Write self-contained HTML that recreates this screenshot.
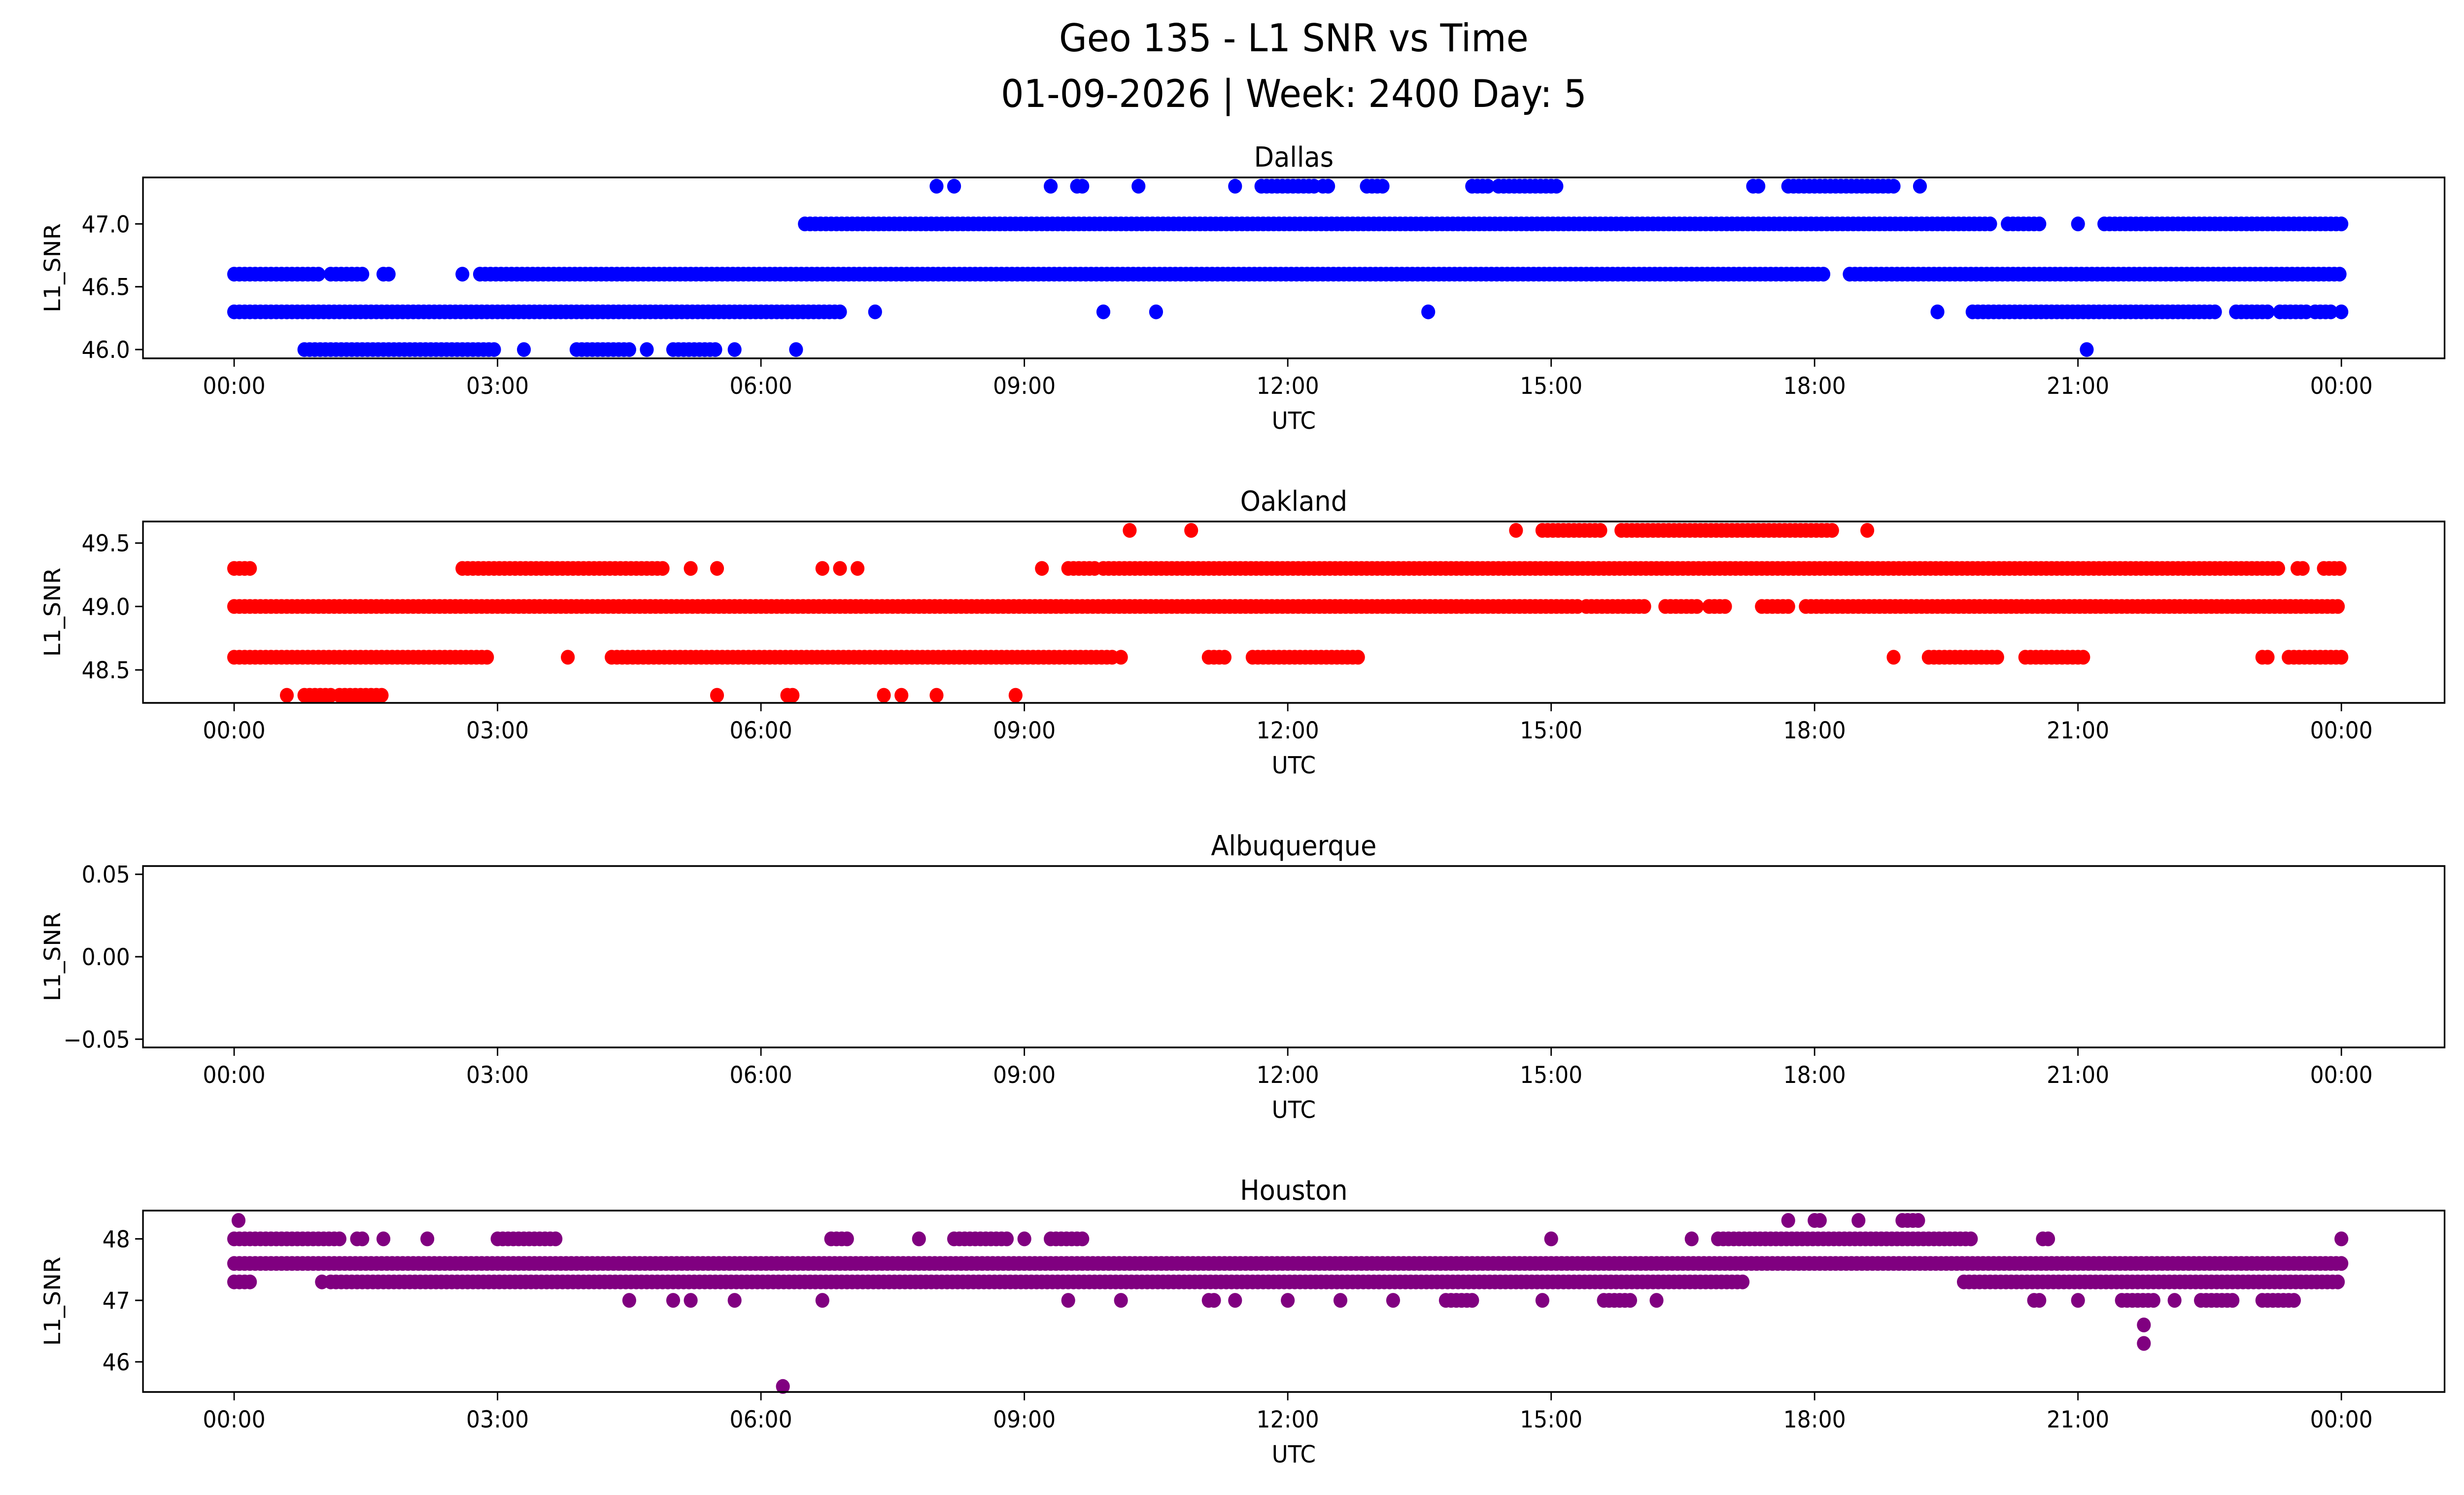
<!DOCTYPE html>
<html><head><meta charset="utf-8"><style>
html,body{margin:0;padding:0;background:#fff;overflow:hidden}
svg{display:block;width:100vw;height:100vh;font-family:"DejaVu Sans","Liberation Sans",sans-serif}
</style></head><body>
<svg id="c" viewBox="0 0 5325 3033" preserveAspectRatio="none" xmlns="http://www.w3.org/2000/svg">
<text x="2796" y="104" font-size="78" text-anchor="middle">Geo 135 - L1 SNR vs Time</text>
<text x="2796" y="217" font-size="78" text-anchor="middle">01-09-2026 | Week: 2400 Day: 5</text>
</svg>
<script>
const xTickLabels=["00:00","03:00","06:00","09:00","12:00","15:00","18:00","21:00","00:00"];
const xTickHours=[0,3,6,9,12,15,18,21,24];
const dallasLevels=[46.0,46.3,46.6,47.0,47.3];
const dallasRanges=[
 [[0.8,3.0],[3.3,3.3],[3.9,4.5],[4.7,4.7],[5.0,5.5],[5.7,5.7],[6.4,6.4],[21.1,21.1]],
 [[0,6.9],[7.3,7.3],[9.9,9.9],[10.5,10.5],[13.6,13.6],[19.4,19.4],[19.8,22.6],[22.8,23.2],[23.3,23.6],[23.7,23.9],[24,24]],
 [[0,1.0],[1.1,1.5],[1.7,1.8],[2.6,2.6],[2.8,18.1],[18.4,24]],
 [[6.5,20.0],[20.2,20.6],[21.0,21.0],[21.3,24]],
 [[8.0,8.0],[8.2,8.2],[9.3,9.3],[9.6,9.7],[10.3,10.3],[11.4,11.4],[11.7,12.3],[12.4,12.5],[12.9,13.1],[14.1,14.3],[14.4,15.1],[17.3,17.4],[17.7,18.9],[19.2,19.2]]
];
const oaklandLevels=[48.3,48.6,49.0,49.3,49.6];
const oaklandRanges=[
 [[0.6,0.6],[0.8,1.1],[1.2,1.7],[5.5,5.5],[6.3,6.4],[7.4,7.4],[7.6,7.6],[8.0,8.0],[8.9,8.9]],
 [[0,2.9],[3.8,3.8],[4.3,10.0],[10.1,10.1],[11.1,11.3],[11.6,12.8],[18.9,18.9],[19.3,20.1],[20.4,21.1],[23.1,23.2],[23.4,24]],
 [[0,15.3],[15.4,16.1],[16.3,16.7],[16.8,17.0],[17.4,17.7],[17.9,24]],
 [[0,0.2],[2.6,4.9],[5.2,5.2],[5.5,5.5],[6.7,6.7],[6.9,6.9],[7.1,7.1],[9.2,9.2],[9.5,9.8],[9.9,23.3],[23.5,23.6],[23.8,24]],
 [[10.2,10.2],[10.9,10.9],[14.6,14.6],[14.9,15.6],[15.8,18.2],[18.6,18.6]]
];
const albuquerqueLevels=[];
const albuquerqueRanges=[];
const houstonLevels=[45.6,46.3,46.6,47.0,47.3,47.6,48.0,48.3];
const houstonRanges=[
 [[6.25,6.25]],
 [[21.75,21.75]],
 [[21.75,21.75]],
 [[4.5,4.5],[5.0,5.0],[5.2,5.2],[5.7,5.7],[6.7,6.7],[9.5,9.5],[10.1,10.1],[11.1,11.2],[11.4,11.4],[12.0,12.0],[12.6,12.6],[13.2,13.2],[13.8,14.1],[14.9,14.9],[15.6,15.9],[16.2,16.2],[20.5,20.6],[21.0,21.0],[21.5,21.9],[22.1,22.1],[22.4,22.8],[23.1,23.5]],
 [[0,0.2],[1.0,1.0],[1.1,17.2],[19.7,24]],
 [[0,24]],
 [[0,1.2],[1.4,1.5],[1.7,1.7],[2.2,2.2],[3.0,3.7],[6.8,7.0],[7.8,7.8],[8.2,8.8],[9.0,9.0],[9.3,9.7],[15.0,15.0],[16.6,16.6],[16.9,19.8],[20.6,20.7],[24,24]],
 [[0.05,0.05],[17.7,17.7],[18.0,18.1],[18.5,18.5],[19.0,19.2]]
];
const panels=[
 {name:"Dallas",top:360,bot:727,ymin:45.93,ymax:47.37,ticks:[46.0,46.5,47.0],tl:["46.0","46.5","47.0"],color:"#0000ff",levels:dallasLevels,ranges:dallasRanges},
 {name:"Oakland",top:1058,bot:1426,ymin:48.24,ymax:49.67,ticks:[48.5,49.0,49.5],tl:["48.5","49.0","49.5"],color:"#ff0000",levels:oaklandLevels,ranges:oaklandRanges},
 {name:"Albuquerque",top:1757,bot:2125,ymin:-0.055,ymax:0.055,ticks:[-0.05,0,0.05],tl:["−0.05","0.00","0.05"],color:"#0000ff",levels:albuquerqueLevels,ranges:albuquerqueRanges},
 {name:"Houston",top:2456,bot:2824,ymin:45.51,ymax:48.46,ticks:[46,47,48],tl:["46","47","48"],color:"#800080",levels:houstonLevels,ranges:houstonRanges}
];
const L=309,R=5283,X0=506,X24=5060;
const svg=document.getElementById('c');const NS="http://www.w3.org/2000/svg";
function mk(tag,a,p){const e=document.createElementNS(NS,tag);for(const k in a)e.setAttribute(k,a[k]);(p||svg).appendChild(e);return e;}
const xs=h=>X0+(X24-X0)*h/24;
panels.forEach(p=>{
 const g=mk('g',{});
 
 
 const ys=v=>p.bot-(v-p.ymin)/(p.ymax-p.ymin)*(p.bot-p.top);
 const pts=mk('g',{fill:p.color},g);
 
 
 p.levels.forEach((lv,i)=>{
  p.ranges[i].forEach(r=>{
   for(let t=r[0];t<=r[1]+1e-9;t+=0.06){
    const c=mk('circle',{cx:xs(t).toFixed(1),cy:ys(lv).toFixed(1),r:15},pts);
    
    
   }
  });
 });
 const fr=mk('rect',{x:L,y:p.top,width:R-L,height:p.bot-p.top,fill:'none',stroke:'#000','stroke-width':3.5},g);
 
 
 xTickHours.forEach((h,i)=>{
  mk('line',{x1:xs(h),x2:xs(h),y1:p.bot,y2:p.bot+17,stroke:'#000','stroke-width':3},g);
  const t=mk('text',{x:xs(h),y:p.bot+72,'font-size':47,'text-anchor':'middle'},g);
  t.textContent=xTickLabels[i];
  
  
 });
 p.ticks.forEach((v,i)=>{
  mk('line',{x1:L-17,x2:L,y1:ys(v),y2:ys(v),stroke:'#000','stroke-width':3},g);
  const t=mk('text',{x:L-28,y:ys(v)+17,'font-size':47,'text-anchor':'end'},g);
  t.textContent=p.tl[i];
  
  
 });
 const xl=mk('text',{x:(L+R)/2,y:p.bot+143,'font-size':48,'text-anchor':'middle'},g);
 xl.textContent='UTC';
 
 
 const ym=(p.top+p.bot)/2;
 const yl=mk('text',{x:130,y:ym,'font-size':48,'text-anchor':'middle',transform:`rotate(-90 130 ${ym})`},g);
 yl.textContent='L1_SNR';
 
 
 const tt=mk('text',{x:(L+R)/2,y:p.top-22,'font-size':56,'text-anchor':'middle'},g);
 tt.textContent=p.name;
 
 
});
</script>
</body></html>
